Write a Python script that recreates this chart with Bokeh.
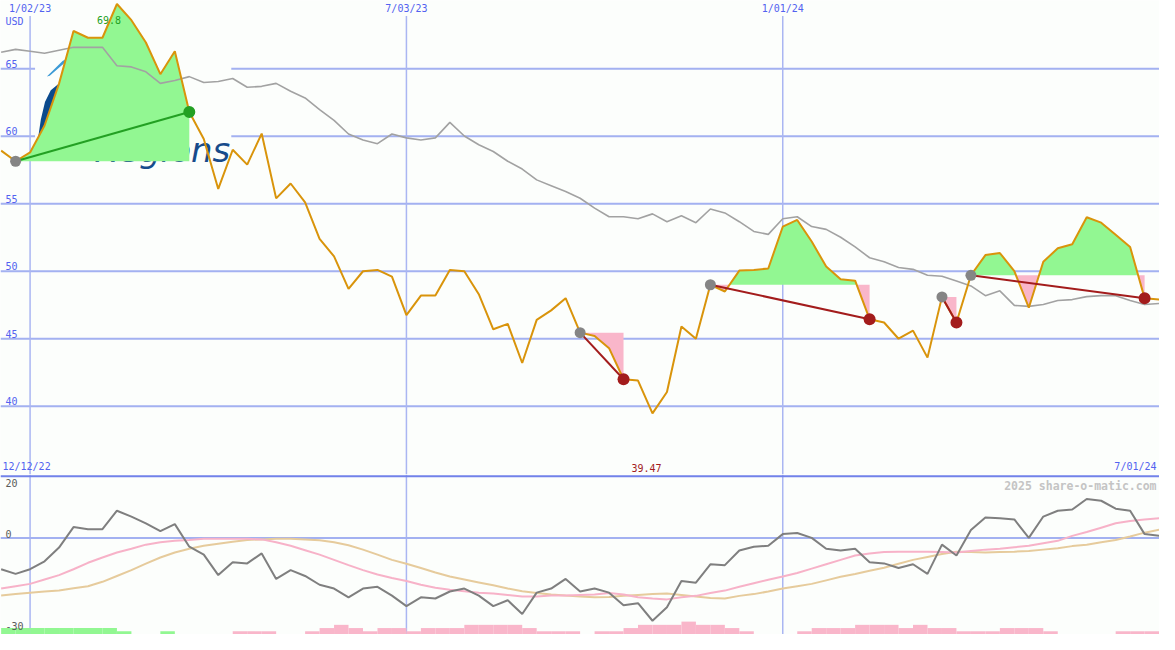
import numpy as np
import pandas as pd
from bokeh.plotting import figure
from bokeh.models import Range1d
from bokeh.layouts import column
from bokeh.embed import file_html
from bokeh.resources import INLINE
from bokeh.core.properties import value

# ---------------- data (weekly, from 2022-12-19) ----------------
first_week = "2022-12-19"
price = [58.94, 58.15, 58.80, 60.8, 63.9, 67.8, 67.3, 67.3, 69.8, 68.6,
         66.95, 64.6, 66.3, 61.8, 59.8, 56.1, 59.0, 57.9, 60.2, 55.4,
         56.5, 55.1, 52.4, 51.1, 48.7, 50.0, 50.1, 49.6, 46.75, 48.2,
         48.2, 50.1, 50.0, 48.3, 45.7, 46.1, 43.2, 46.4, 47.1, 48.0,
         45.45, 45.2, 44.3, 42.0, 41.9, 39.47, 41.05, 45.9, 45.0, 49.0,
         48.5, 50.05, 50.1, 50.2, 53.3, 53.8, 52.2, 50.35, 49.4, 49.3,
         46.45, 46.2, 45.0, 45.6, 43.6, 48.1, 46.2, 49.7, 51.2, 51.35,
         50.0, 47.3, 50.7, 51.7, 52.0, 54.0, 53.6, 52.7, 51.8, 48.0, 47.9]
trend = [66.23, 66.44, 66.30, 66.15, 66.37, 66.59, 66.59, 66.59, 65.22, 65.14,
         64.78, 63.92, 64.13, 64.42, 63.99, 64.06, 64.28, 63.63, 63.70, 63.92,
         63.34, 62.84, 61.97, 61.18, 60.17, 59.73, 59.45, 60.17, 59.88, 59.73,
         59.88, 61.03, 60.02, 59.37, 58.87, 58.15, 57.57, 56.77, 56.34, 55.91,
         55.41, 54.68, 54.04, 54.04, 53.89, 54.25, 53.67, 54.11, 53.60, 54.61,
         54.32, 53.67, 52.95, 52.73, 53.89, 54.04, 53.31, 53.10, 52.52, 51.80,
         51.00, 50.71, 50.28, 50.14, 49.70, 49.63, 49.27, 48.91, 48.19, 48.55,
         47.47, 47.40, 47.54, 47.83, 47.90, 48.12, 48.19, 48.19, 47.83, 47.54, 47.61]
osc = [-10.7, -12.3, -10.7, -8.0, -3.3, 3.7, 3.0, 3.0, 9.3, 7.3,
       5.0, 2.3, 4.7, -3.0, -5.7, -12.7, -8.3, -8.7, -5.3, -14.0,
       -11.0, -13.0, -16.0, -17.3, -20.3, -17.3, -16.7, -19.7, -23.3, -20.3,
       -20.7, -18.3, -17.3, -19.7, -23.3, -21.3, -26.0, -18.7, -17.3, -14.0,
       -18.3, -17.3, -18.7, -23.0, -22.3, -28.3, -23.7, -14.7, -15.3, -9.0,
       -9.3, -4.3, -3.0, -2.7, 1.3, 1.7, 0.0, -3.7, -4.3, -3.7,
       -8.3, -8.7, -10.3, -9.0, -12.3, -2.3, -6.0, 2.7, 7.0, 6.7,
       6.3, 0.0, 7.3, 9.3, 9.7, 13.3, 12.7, 10.0, 9.3, 1.3, 0.7]
osc_fast = [-17.3, -16.5, -15.7, -14.2, -12.7, -10.7, -8.5, -6.7, -5.0, -3.7,
            -2.3, -1.5, -1.0, -0.7, -0.3, -0.3, -0.3, -0.3, -0.5, -1.5,
            -2.7, -4.2, -5.7, -7.5, -9.3, -11.0, -12.5, -13.7, -14.7, -16.0,
            -17.0, -17.7, -18.2, -18.7, -19.0, -19.5, -20.0, -20.0, -19.7, -19.7,
            -19.5, -19.3, -18.8, -19.3, -20.3, -20.7, -21.0, -20.3, -19.8, -18.8,
            -18.0, -16.7, -15.5, -14.3, -13.2, -12.0, -10.5, -9.0, -7.5, -6.0,
            -5.3, -4.8, -4.7, -4.7, -4.7, -4.8, -5.0, -4.5, -4.0, -3.7,
            -3.2, -2.7, -1.8, -1.0, 0.7, 2.0, 3.5, 5.0, 5.8, 6.3, 6.7]
osc_slow = [-19.7, -19.2, -18.7, -18.3, -18.0, -17.2, -16.5, -15.0, -13.0, -11.0,
            -8.8, -6.7, -5.0, -3.7, -2.7, -2.0, -1.3, -0.7, -0.5, -0.3,
            -0.3, -0.5, -0.8, -1.5, -2.5, -4.0, -5.7, -7.5, -8.8, -10.3,
            -11.8, -13.2, -14.2, -15.2, -16.2, -17.3, -18.2, -18.8, -19.3, -19.7,
            -20.0, -20.3, -20.2, -19.8, -19.5, -19.2, -19.0, -19.5, -20.0, -20.5,
            -20.7, -19.8, -19.2, -18.3, -17.3, -16.5, -15.7, -14.5, -13.3, -12.3,
            -11.2, -10.2, -8.8, -7.5, -6.5, -5.5, -4.7, -4.8, -5.0, -4.8,
            -4.7, -4.5, -4.0, -3.5, -2.8, -2.3, -1.5, -0.7, 0.5, 1.8, 2.8]
hist = [2, 2, 2, 2, 2, 2, 2, 2, 1, 0, 0, 1, 0, 0, 0, 0, -1, -1, -1, 0,
        0, -1, -2, -3, -2, -1, -2, -2, -1, -2, -2, -2, -3, -3, -3, -3, -2, -1, -1, -1,
        0, -1, -1, -2, -3, -3, -3, -4, -3, -3, -2, -1, 0, 0, 0, -1, -2, -2, -2, -3,
        -3, -3, -2, -3, -2, -2, -1, -1, -1, -2, -2, -2, -1, 0, 0, 0, 0, -1, -1, -1, 0]

signal_start = ["2022-12-26", "2023-09-25", "2023-11-27", "2024-03-18", "2024-04-01"]
signal_end = ["2023-03-20", "2023-10-16", "2024-02-12", "2024-03-25", "2024-06-24"]

date_ticks = ["2023-01-02", "2023-07-03", "2024-01-01"]
date_labels = ["1/02/23", "7/03/23", "1/01/24"]
price_ticks = [40, 45, 50, 55, 60, 65]
osc_ticks = [20, 0, -30]
start_label = "12/12/22"
end_label = "7/01/24"
currency = "USD"
credit = "2025 share-o-matic.com"

# ---------------- helpers ----------------
def ms(s):
    return pd.Timestamp(s).value / 1e6

dates = pd.date_range(first_week, periods=len(price), freq="7D")
xms = np.array([d.value / 1e6 for d in dates])
DAY = 86400000.0

BG = "#fcfefc"
GRID = "#a3b1f1"
VGRID = "#aab6f2"
TXT = "#5262f0"
GREEN_FILL = "#92f792"
PINK_FILL = "#f9b6ca"
ORANGE = "#d9940b"
RED = "#a31c1c"
GREEN = "#23a023"
MONO = value("DejaVu Sans Mono")

x_anchor = ms(date_ticks[0])
xr = Range1d(x_anchor - 14.31 * DAY, x_anchor + 546.2 * DAY)
Y_TOP = (34.94, 70.06)
Y_BOT = (-33.0, 21.67)

W = 1159
H_TOP = 474
H_BOT = 160

top = figure(width=W, height=H_TOP, x_range=xr, y_range=Range1d(*Y_TOP),
             output_backend="svg", toolbar_location=None, min_border=0,
             x_axis_location=None, y_axis_location=None,
             background_fill_color=BG, border_fill_color=BG, outline_line_color=None)
top.grid.visible = False

# gridlines
top.segment(x0=[xr.start] * len(price_ticks), x1=[xr.end] * len(price_ticks),
            y0=price_ticks, y1=price_ticks, line_color=GRID, line_width=2)
top.segment(x0=[ms(d) for d in date_ticks], x1=[ms(d) for d in date_ticks],
            y0=[Y_TOP[1] - 1.15] * 3, y1=[Y_TOP[0]] * 3, line_color=VGRID, line_width=1.5)

# logo (decoration)
top.quad(left=x_anchor + 2.4 * DAY, right=x_anchor + 97.3 * DAY, bottom=57.0, top=66.5,
         fill_color=BG, line_color=None)
leaf_d = [8.1, 11.9, 15.7, 19.1, 20.5, 17.2, 13.4, 9.5]
leaf_p = [64.42, 65.0, 65.58, 65.87, 65.87, 65.51, 65.0, 64.49]
top.patch(x=[x_anchor + d * DAY for d in leaf_d], y=leaf_p, fill_color="#3d9bd6", line_color=None)
sw_d = [3.8, 5.2, 7.2, 10.0, 13.4, 16.7, 14.3, 11.9, 10.0, 8.1]
sw_p = [59.80, 61.24, 62.54, 63.41, 63.84, 63.99, 63.34, 62.40, 61.24, 59.80]
top.patch(x=[x_anchor + d * DAY for d in sw_d], y=sw_p, fill_color="#0b4a8c", line_color=None)
top.text(x=[x_anchor + 96.8 * DAY], y=[58.95], text=["Regions"], text_align="right",
         text_baseline="middle", text_font=value("DejaVu Sans"), text_font_style="italic",
         text_font_size="34px", text_color="#174b8b")

# signal fills
idx = {d: i for i, d in enumerate(dates)}
for s, e in zip(signal_start, signal_end):
    i0, i1 = idx[pd.Timestamp(s)], idx[pd.Timestamp(e)]
    xs = xms[i0:i1 + 1]
    ys = np.array(price[i0:i1 + 1], dtype=float)
    base = ys[0]
    px, py = [], []
    for j in range(len(xs) - 1):
        px.append(xs[j]); py.append(ys[j])
        a, b = ys[j] - base, ys[j + 1] - base
        if a * b < 0:
            t = a / (a - b)
            px.append(xs[j] + t * (xs[j + 1] - xs[j])); py.append(base)
    px.append(xs[-1]); py.append(ys[-1])
    px = np.array(px); py = np.array(py)
    bl = np.full_like(py, base)
    top.varea(x=px, y1=bl, y2=np.maximum(py, base), fill_color=GREEN_FILL)
    top.varea(x=px, y1=np.minimum(py, base), y2=bl, fill_color=PINK_FILL)

# max label
imax = int(np.argmax(price))
top.text(x=[xms[imax]], y=[price[imax]], text=[f"{price[imax]:.1f}"], x_offset=-8, y_offset=16,
         text_align="center", text_baseline="middle", text_font=MONO, text_font_size="10px",
         text_color=GREEN)

# trend and price lines
top.line(xms, trend, line_color="#a2a2a2", line_width=1.6)
top.line(xms, price, line_color=ORANGE, line_width=2)

# signal lines and markers
for s, e in zip(signal_start, signal_end):
    i0, i1 = idx[pd.Timestamp(s)], idx[pd.Timestamp(e)]
    col = GREEN if price[i1] > price[i0] else RED
    top.line([xms[i0], xms[i1]], [price[i0], price[i1]], line_color=col, line_width=2)
    top.scatter([xms[i0]], [price[i0]], size=11, fill_color="#858585", line_color=None)
    top.scatter([xms[i1]], [price[i1]], size=12, fill_color=col, line_color=None)

# text labels
top.text(x=[ms(d) for d in date_ticks], y=[Y_TOP[1]] * 3, text=date_labels, y_offset=2,
         text_align="center", text_baseline="top", text_font=MONO, text_font_size="10px",
         text_color=TXT)
top.text(x=[xr.start], y=[Y_TOP[1]], text=[currency], x_offset=5, y_offset=15,
         text_align="left", text_baseline="top", text_font=MONO, text_font_size="10px",
         text_color=TXT)
top.text(x=[xr.start] * len(price_ticks), y=price_ticks, text=[str(t) for t in price_ticks],
         x_offset=5, y_offset=-1, text_align="left", text_baseline="bottom", text_font=MONO,
         text_font_size="10px", text_color=TXT)
top.text(x=[xr.start], y=[Y_TOP[0]], text=[start_label], x_offset=2, y_offset=-3,
         text_align="left", text_baseline="bottom", text_font=MONO, text_font_size="10px",
         text_color=TXT)
top.text(x=[xr.end], y=[Y_TOP[0]], text=[end_label], x_offset=-3, y_offset=-3,
         text_align="right", text_baseline="bottom", text_font=MONO, text_font_size="10px",
         text_color=TXT)
imin = int(np.argmin(price))
top.text(x=[xms[imin]], y=[Y_TOP[0]], text=[f"{price[imin]:.2f}"], x_offset=-6, y_offset=-3,
         text_align="center", text_baseline="bottom", text_font=MONO, text_font_size="10px",
         text_color=RED)

# ---------------- bottom panel ----------------
bot = figure(width=W, height=H_BOT, x_range=xr, y_range=Range1d(*Y_BOT),
             output_backend="svg", toolbar_location=None, min_border=0,
             x_axis_location=None, y_axis_location=None,
             background_fill_color=BG, border_fill_color=BG, outline_line_color=None)
bot.grid.visible = False

bot.segment(x0=[ms(d) for d in date_ticks], x1=[ms(d) for d in date_ticks],
            y0=[Y_BOT[0]] * 3, y1=[Y_BOT[1]] * 3, line_color=VGRID, line_width=1.5)
bot.segment(x0=[xr.start], x1=[xr.end], y0=[0], y1=[0], line_color=GRID, line_width=2)
bot.segment(x0=[xr.start], x1=[xr.end], y0=[21.1], y1=[21.1], line_color="#7282ea", line_width=2)

h = np.array(hist[:-1], dtype=float)
bot.quad(left=xms[:-1], right=xms[1:], bottom=np.full_like(h, Y_BOT[0]),
         top=Y_BOT[0] + np.abs(h) * 1.1,
         fill_color=[GREEN_FILL if v > 0 else PINK_FILL for v in h], line_color=None)

bot.line(xms, osc_slow, line_color="#e6cb9c", line_width=2)
bot.line(xms, osc_fast, line_color="#f7b2c8", line_width=2)
bot.line(xms, osc, line_color="#7f7f7f", line_width=2)

for t, bl in zip(osc_ticks, ["top", "bottom", "middle"]):
    bot.text(x=[xr.start], y=[t], text=[str(t)], x_offset=5, text_align="left",
             text_baseline=bl, text_font=MONO, text_font_size="10px", text_color="#5a5a5a")
bot.text(x=[xr.end], y=[Y_BOT[1]], text=[credit], x_offset=-3, y_offset=4,
         text_align="right", text_baseline="top", text_font=MONO, text_font_size="11.5px",
         text_font_style="bold", text_color="#c4c4c4")

layout = column(top, bot, spacing=0)
open("out.html", "w").write(file_html(layout, INLINE))
